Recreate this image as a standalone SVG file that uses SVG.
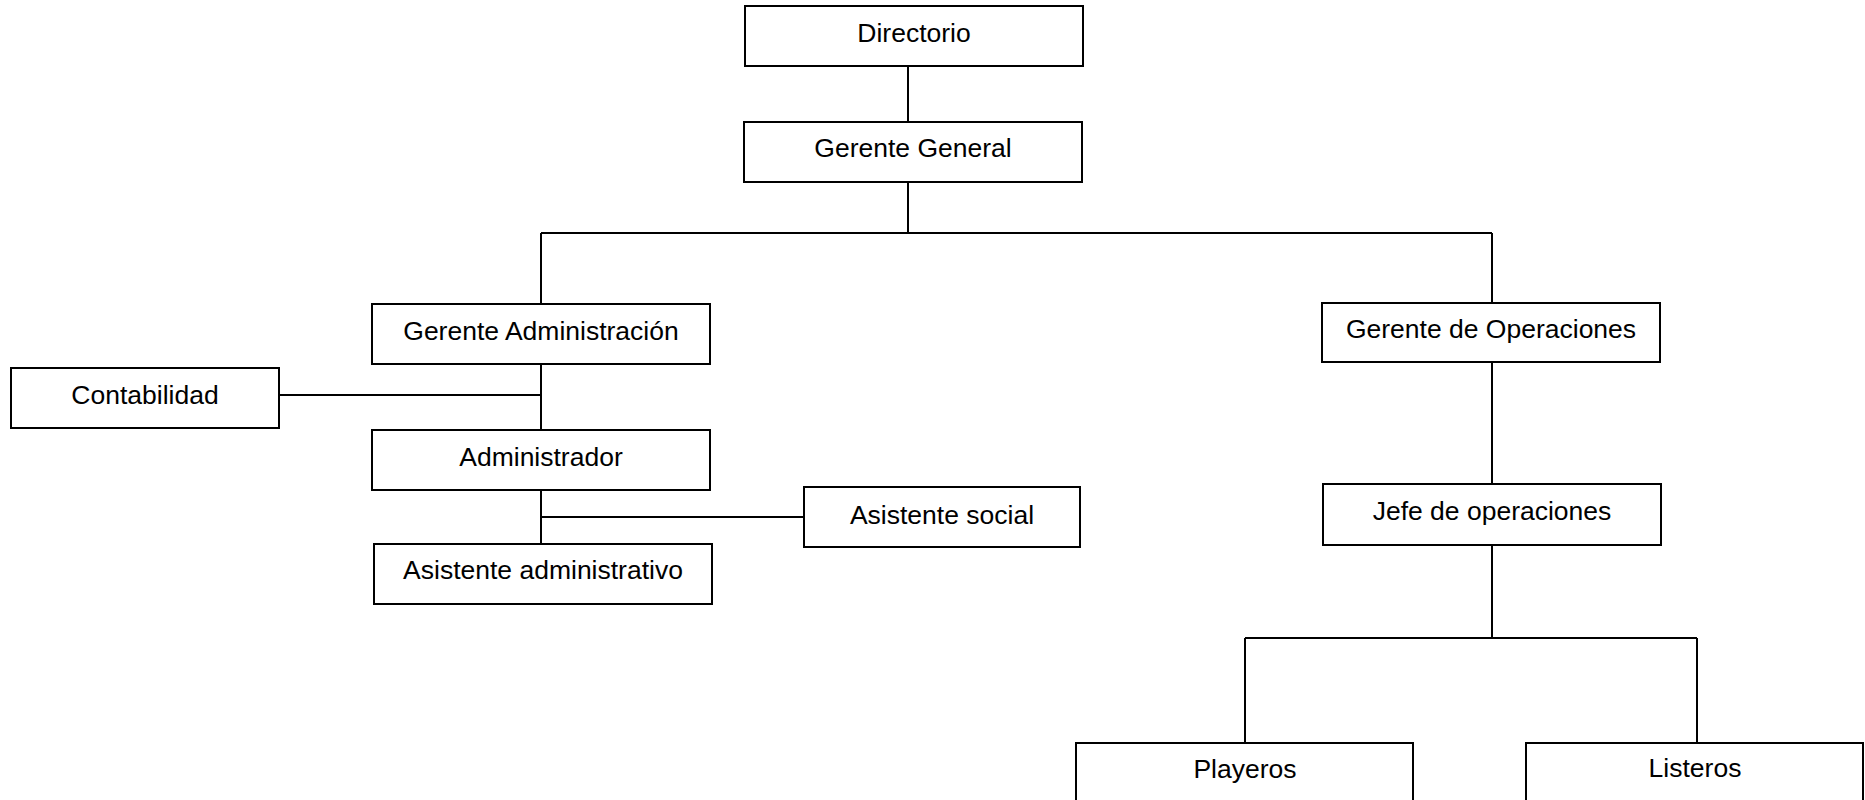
<svg xmlns="http://www.w3.org/2000/svg" width="1865" height="800" viewBox="0 0 1865 800">
<style>
.box{fill:#fff;stroke:#000;stroke-width:2}
.lbl{font-family:"Liberation Sans",Arial,sans-serif;font-size:26.5px;fill:#000;text-anchor:middle}
.con{fill:none;stroke:#000;stroke-width:2}
</style>
<rect width="1865" height="800" fill="#fff"/>
<g id="connectors">
<path class="con" d="M908 66V122"/>
<path class="con" d="M908 182V233"/>
<path class="con" d="M541 233H1492"/>
<path class="con" d="M541 233V304"/>
<path class="con" d="M1492 233V303"/>
<path class="con" d="M541 364V430"/>
<path class="con" d="M279 395H541"/>
<path class="con" d="M541 490V544"/>
<path class="con" d="M541 517H804"/>
<path class="con" d="M1492 362V484"/>
<path class="con" d="M1492 545V638"/>
<path class="con" d="M1245 638H1697"/>
<path class="con" d="M1245 638V743"/>
<path class="con" d="M1697 638V743"/>
</g>
<g id="directorio"><rect class="box" x="745" y="6" width="338" height="60"/><text class="lbl" x="914" y="42">Directorio</text></g>
<g id="gerente-general"><rect class="box" x="744" y="122" width="338" height="60"/><text class="lbl" x="913" y="157">Gerente General</text></g>
<g id="gerente-administracion"><rect class="box" x="372" y="304" width="338" height="60"/><text class="lbl" x="541" y="340">Gerente Administración</text></g>
<g id="contabilidad"><rect class="box" x="11" y="368" width="268" height="60"/><text class="lbl" x="145" y="404">Contabilidad</text></g>
<g id="administrador"><rect class="box" x="372" y="430" width="338" height="60"/><text class="lbl" x="541" y="466">Administrador</text></g>
<g id="asistente-administrativo"><rect class="box" x="374" y="544" width="338" height="60"/><text class="lbl" x="543" y="579">Asistente administrativo</text></g>
<g id="asistente-social"><rect class="box" x="804" y="487" width="276" height="60"/><text class="lbl" x="942" y="524">Asistente social</text></g>
<g id="gerente-operaciones"><rect class="box" x="1322" y="303" width="338" height="59"/><text class="lbl" x="1491" y="338">Gerente de Operaciones</text></g>
<g id="jefe-operaciones"><rect class="box" x="1323" y="484" width="338" height="61"/><text class="lbl" x="1492" y="520">Jefe de operaciones</text></g>
<g id="playeros"><rect class="box" x="1076" y="743" width="337" height="70"/><text class="lbl" x="1245" y="778">Playeros</text></g>
<g id="listeros"><rect class="box" x="1526" y="743" width="337" height="70"/><text class="lbl" x="1695" y="777">Listeros</text></g>
</svg>
